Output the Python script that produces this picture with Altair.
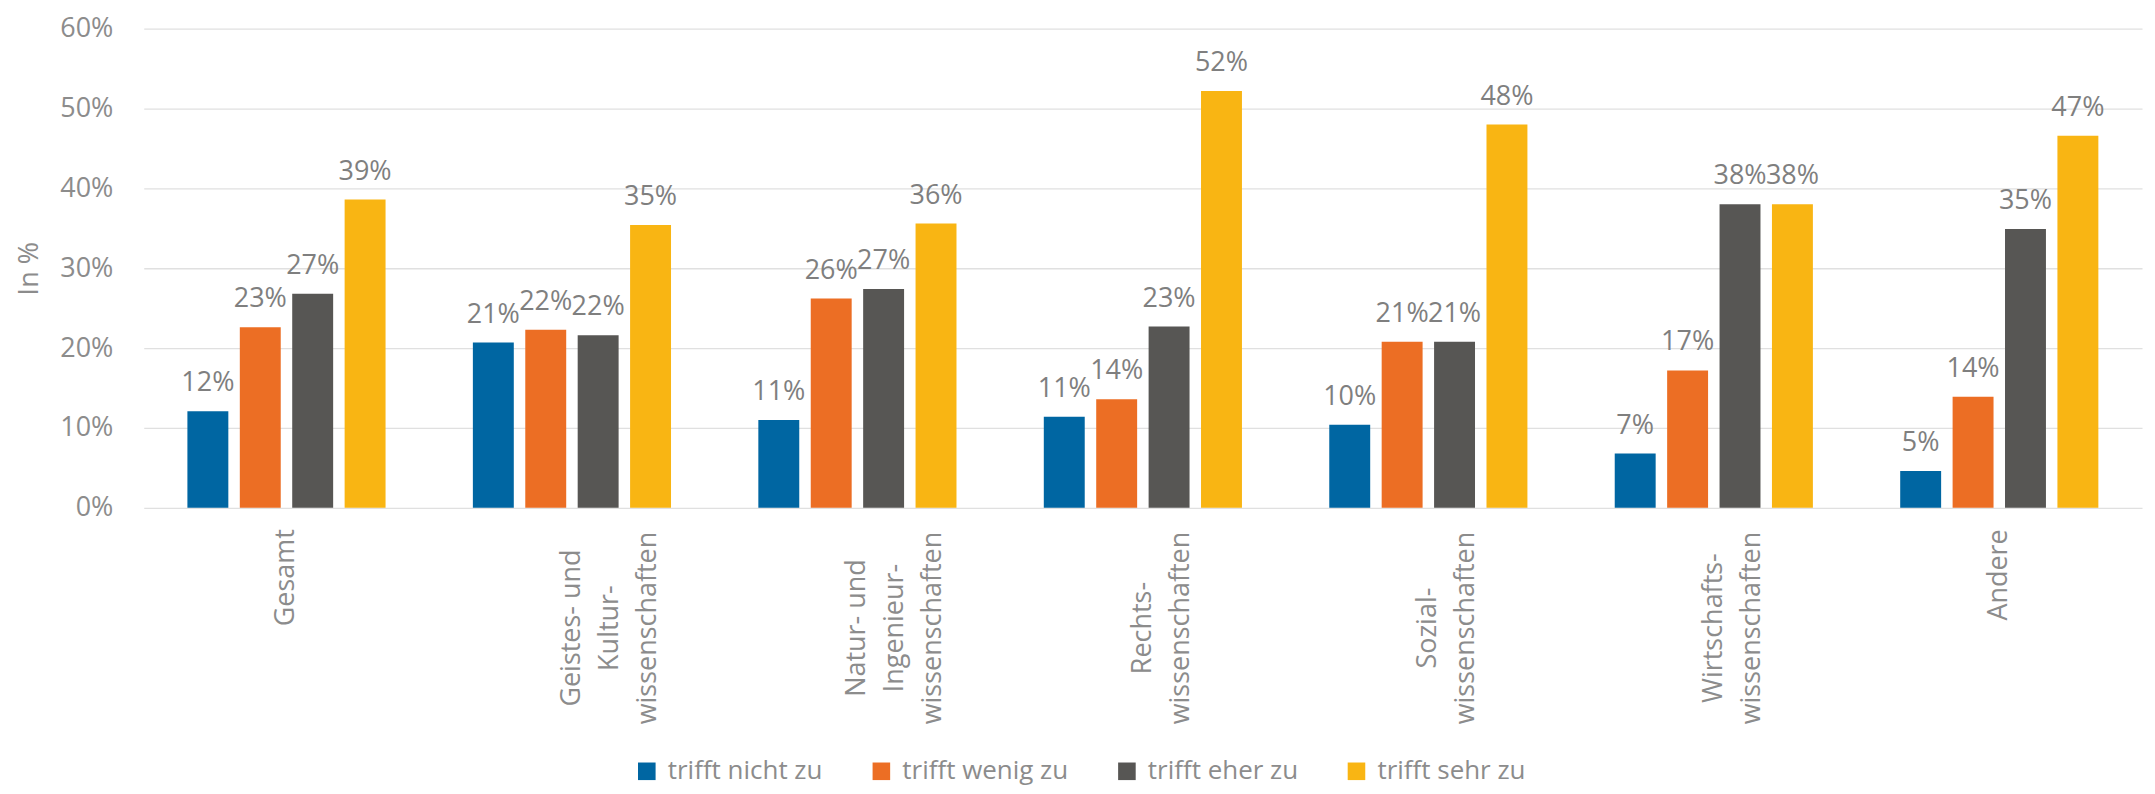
import altair as alt
import pandas as pd

categories = [
    "Gesamt",
    "Geistes- und|Kultur-|wissenschaften",
    "Natur- und|Ingenieur-|wissenschaften",
    "Rechts-|wissenschaften",
    "Sozial-|wissenschaften",
    "Wirtschafts-|wissenschaften",
    "Andere",
]
series = ["trifft nicht zu", "trifft wenig zu", "trifft eher zu", "trifft sehr zu"]
nicht_zu = [12.1, 20.7, 11.0, 11.4, 10.4, 6.8, 4.6]
wenig_zu = [22.6, 22.3, 26.2, 13.6, 20.8, 17.2, 13.9]
eher_zu = [26.8, 21.6, 27.4, 22.7, 20.8, 38.0, 34.9]
sehr_zu = [38.6, 35.4, 35.6, 52.2, 48.0, 38.0, 46.6]
colors = ["#0066A2", "#EC6E24", "#575654", "#F9B513"]
y_ticks = [0, 10, 20, 30, 40, 50, 60]

rows = []
for s, vals in zip(series, [nicht_zu, wenig_zu, eher_zu, sehr_zu]):
    for c, v in zip(categories, vals):
        rows.append({"Fach": c, "Antwort": s, "Wert": v})
df = pd.DataFrame(rows)

FONT = "Open Sans"
AXIS_GRAY = "#8c8c8c"
VALUE_GRAY = "#7f7f7f"

single = "indexof(datum.value, '|') < 0"

x = alt.X(
    "Fach:N",
    sort=categories,
    title=None,
    scale=alt.Scale(paddingInner=0, paddingOuter=0),
    axis=alt.Axis(
        labelExpr="split(datum.label, '|')",
        labelAngle=270,
        labelAlign={"condition": {"test": single, "value": "right"}, "value": "center"},
        labelPadding={"condition": {"test": single, "value": 21}, "value": 120},
        labelBaseline="middle",
        labelLineHeight=38,
        labelFont=FONT,
        labelFontSize=27,
        labelColor=AXIS_GRAY,
        labelLimit=0,
        labelOverlap=False,
        ticks=False,
        domain=False,
        grid=False,
    ),
)
xoff = alt.XOffset(
    "Antwort:N",
    sort=series,
    scale=alt.Scale(paddingInner=0.219, paddingOuter=0.833),
)
y = alt.Y(
    "Wert:Q",
    scale=alt.Scale(domain=[0, 60], nice=False),
    axis=alt.Axis(
        values=y_ticks,
        labelExpr="datum.value + '%'",
        title="In %",
        titleFont=FONT,
        titleFontSize=27,
        titleFontWeight="normal",
        titleColor=AXIS_GRAY,
        titlePadding=16,
        labelFont=FONT,
        labelFontSize=27,
        labelColor=AXIS_GRAY,
        labelPadding=31,
        ticks=False,
        domain=False,
        grid=True,
        gridColor="#e0e0e0",
        gridWidth=1.3,
    ),
)

bars = alt.Chart(df).mark_bar().encode(
    x=x,
    xOffset=xoff,
    y=y,
    color=alt.Color(
        "Antwort:N",
        sort=series,
        scale=alt.Scale(domain=series, range=colors),
        legend=alt.Legend(
            orient="none",
            legendX=491,
            legendY=731,
            direction="horizontal",
            columns=4,
            title=None,
            symbolType="square",
            symbolSize=310,
            symbolStrokeWidth=0,
            symbolOpacity=1,
            labelFont=FONT,
            labelFontSize=26,
            labelColor=AXIS_GRAY,
            labelLimit=0,
            labelOffset=8,
            columnPadding=45,
        ),
    ),
)

labels = alt.Chart(df).transform_calculate(
    txt="format(datum.Wert, '.0f') + '%'"
).mark_text(
    dy=-20, baseline="alphabetic", align="center", font=FONT, fontSize=27, color=VALUE_GRAY
).encode(
    x=alt.X("Fach:N", sort=categories),
    xOffset=alt.XOffset("Antwort:N", sort=series),
    y=alt.Y("Wert:Q"),
    text="txt:N",
)

chart = (
    alt.layer(bars, labels)
    .properties(
        width=2002,
        height=480,
        autosize=alt.AutoSizeParams(type="none"),
        padding={"left": 136, "top": 20, "right": 5, "bottom": 278},
    )
    .configure_view(stroke=None)
)

chart.save("out.html", embed_options={"renderer": "svg", "actions": False})
